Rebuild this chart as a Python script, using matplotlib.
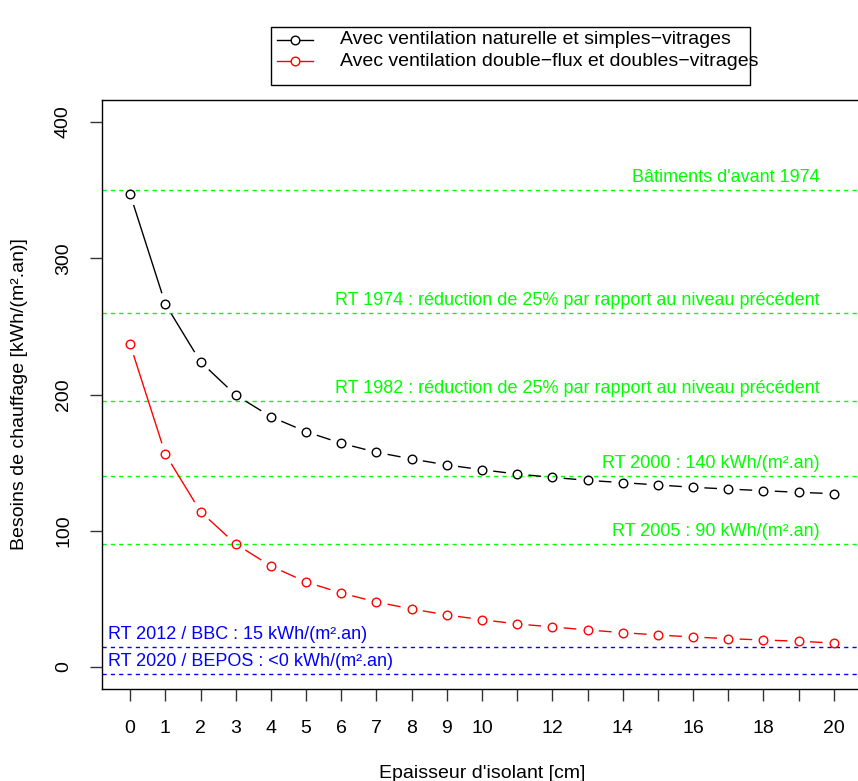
import numpy as np
import matplotlib
matplotlib.use("Agg")
import matplotlib.pyplot as plt
from matplotlib.patches import Rectangle

plt.rcParams['font.family'] = ['Liberation Sans', 'DejaVu Sans']

# épaisseur d'isolant [cm]
epaisseur = list(range(0, 21))
# besoins de chauffage [kWh/(m².an)]
naturelle = [347, 266.4, 224, 199.6, 183.7, 172.7, 164.2, 157.6, 152.7, 148.3, 144.8,
             141.6, 139.2, 137.0, 135.3, 133.6, 131.9, 130.6, 129.4, 128.2, 127.2]
double_flux = [236.8, 156.3, 114, 90.3, 74.1, 62.4, 54.3, 47.7, 42.6, 38.2, 34.7,
               31.6, 29.4, 27.2, 25.2, 23.5, 22.0, 20.8, 19.8, 18.9, 17.6]

# niveaux réglementaires
niveaux_verts = [350, 260, 195, 140, 90]
textes_verts = ["Bâtiments d'avant 1974",
                "RT 1974 : réduction de 25% par rapport au niveau précédent",
                "RT 1982 : réduction de 25% par rapport au niveau précédent",
                "RT 2000 : 140 kWh/(m².an)",
                "RT 2005 : 90 kWh/(m².an)"]
niveaux_bleus = [15, -5]
textes_bleus = ["RT 2012 / BBC : 15 kWh/(m².an)",
                "RT 2020 / BEPOS : <0 kWh/(m².an)"]

xticks = list(range(0, 21))
xticklabels = [str(v) if (v <= 10 or v % 2 == 0) else "" for v in xticks]
yticks = [0, 100, 200, 300, 400]

legend_labels = ["Avec ventilation naturelle et simples\u2212vitrages",
                 "Avec ventilation double\u2212flux et doubles\u2212vitrages"]
legend_colors = ["black", "red"]

W, H = 858, 781
fig = plt.figure(figsize=(W / 100, H / 100), dpi=100)
ax = fig.add_axes([102 / W, (H - 688.8) / H, (862 - 102) / W, (688.8 - 100.2) / H])
ax.set_xlim(-0.8, 20.8)
ax.set_ylim(-16, 416)

FS = 14      # axes, légende
FS_TXT = 13  # annotations des niveaux

def courbe_b(x, y, color, gap=12):
    # type="b" façon R : segments interrompus autour des points
    pts = ax.transData.transform(np.column_stack([x, y]))
    inv = ax.transData.inverted()
    for p0, p1 in zip(pts[:-1], pts[1:]):
        d = p1 - p0
        L = np.hypot(*d)
        if L <= 2 * gap:
            continue
        u = d / L
        a = inv.transform(p0 + u * gap)
        b = inv.transform(p1 - u * gap)
        ax.plot([a[0], b[0]], [a[1], b[1]], color=color, lw=1)
    ax.plot(x, y, 'o', ms=6.2, mfc='none', mec=color, mew=1)

for lv, txt in zip(niveaux_verts, textes_verts):
    ax.axhline(lv, color='#00FF00', lw=1, dashes=(3, 3))
    ax.annotate(txt, (19.6, lv), xytext=(0, 4), textcoords='offset pixels',
                ha='right', va='bottom', color='#00FF00', fontsize=FS_TXT)
for lv, txt in zip(niveaux_bleus, textes_bleus):
    ax.axhline(lv, color='#0000FF', lw=1, dashes=(3, 3))
    ax.annotate(txt, (-0.64, lv), xytext=(0, 4), textcoords='offset pixels',
                ha='left', va='bottom', color='#0000FF', fontsize=FS_TXT)

fig.canvas.draw()
courbe_b(epaisseur, naturelle, 'black')
courbe_b(epaisseur, double_flux, 'red')

ax.set_xticks(xticks)
ax.set_xticklabels(xticklabels, fontsize=FS)
ax.set_yticks(yticks)
ax.set_yticklabels([str(v) for v in yticks], fontsize=FS, rotation=90, va='center')
ax.tick_params(axis='both', length=8.6, width=1, color='#333333')
ax.tick_params(axis='x', pad=14)
ax.tick_params(axis='y', pad=13)
ax.set_xlabel("Epaisseur d'isolant [cm]", fontsize=FS, va='center')
ax.set_ylabel("Besoins de chauffage [kWh/(m².an)]", fontsize=FS, va='center')
ax.xaxis.set_label_coords(0.5, (688.8 - 773) / (688.8 - 100.2))
ax.yaxis.set_label_coords((20 - 102) / 760, 0.5)
for s in ax.spines.values():
    s.set_linewidth(1)

# légende dessinée hors du cadre
ov = fig.add_axes([0, 0, 1, 1], facecolor='none')
ov.set_xlim(0, W)
ov.set_ylim(H, 0)
ov.axis('off')
ov.add_patch(Rectangle((271, 27), 479, 58, fill=False, ec='black', lw=1))
for i, (lab, col) in enumerate(zip(legend_labels, legend_colors)):
    yy = 40 + i * 21
    ov.plot([277, 313], [yy, yy], color=col, lw=1)
    ov.plot([295], [yy], 'o', ms=6.2, mfc='white', mec=col, mew=1)
    ov.text(340, yy, lab, fontsize=FS, va='center', ha='left')

fig.savefig("out.png", dpi=100)
